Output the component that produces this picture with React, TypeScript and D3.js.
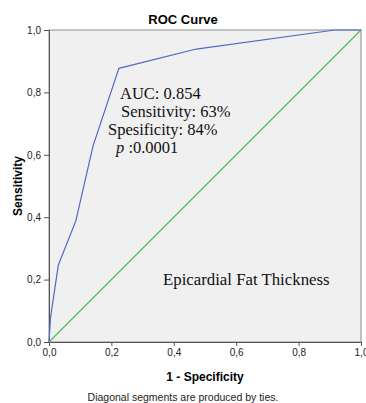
import React, { useEffect, useRef } from "react";
import * as d3 from "d3";

// ROC points (1 - specificity, sensitivity)
const fpr = [0, 0.005, 0.03, 0.086, 0.141, 0.224, 0.472, 0.916, 1];
const tpr = [0, 0.08, 0.247, 0.388, 0.628, 0.877, 0.939, 1, 1];
const tickValues = [0, 0.2, 0.4, 0.6, 0.8, 1];
const statLines = ["AUC: 0.854", "Sensitivity: 63%", "Spesificity: 84%"];

const App: React.FC = () => {
  const svgRef = useRef<SVGSVGElement | null>(null);
  const W = 366;
  const H = 403;
  const margin = { top: 30, right: 5, bottom: 61, left: 49 };
  const width = W - margin.left - margin.right;
  const height = H - margin.top - margin.bottom;

  useEffect(() => {
    const svgElement = svgRef.current;
    if (!svgElement) return;
    const svg = d3.select(svgElement);
    svg.selectAll("*").remove();
    svg.style("background-color", "white");

    const x = d3.scaleLinear().domain([0, 1]).range([0, width]);
    const y = d3.scaleLinear().domain([0, 1]).range([height, 0]);

    const g = svg
      .append("g")
      .attr("transform", `translate(${margin.left},${margin.top})`);

    g.append("rect")
      .attr("width", width)
      .attr("height", height)
      .attr("fill", "#f0f0f0")
      .attr("stroke", "#8c8c8c");

    const fmt = (d: d3.NumberValue) => d3.format(".1f")(d as number).replace(".", ",");

    g.append("g")
      .attr("transform", `translate(0,${height})`)
      .call(d3.axisBottom(x).tickValues(tickValues).tickFormat(fmt).tickSize(4))
      .call((a) => a.selectAll(".domain, .tick line").attr("stroke", "#555"))
      .call((a) =>
        a.selectAll(".tick text").attr("fill", "#222").attr("font-size", 10).attr("font-family", "Arial")
      );

    g.append("g")
      .call(d3.axisLeft(y).tickValues(tickValues).tickFormat(fmt).tickSize(5))
      .call((a) => a.selectAll(".domain, .tick line").attr("stroke", "#555"))
      .call((a) =>
        a.selectAll(".tick text").attr("fill", "#222").attr("font-size", 10).attr("font-family", "Arial")
      );

    // reference diagonal
    g.append("line")
      .attr("x1", x(0))
      .attr("y1", y(0))
      .attr("x2", x(1))
      .attr("y2", y(1))
      .attr("stroke", "#4cbf5c")
      .attr("stroke-width", 1.2);

    const line = d3
      .line<number>()
      .x((d, i) => x(fpr[i]))
      .y((d) => y(d));

    g.append("path")
      .datum(tpr)
      .attr("d", line)
      .attr("fill", "none")
      .attr("stroke", "#5568c0")
      .attr("stroke-width", 1.2);

    // title and axis labels
    svg
      .append("text")
      .attr("x", W / 2)
      .attr("y", 24)
      .attr("text-anchor", "middle")
      .attr("font-family", "Arial")
      .attr("font-weight", "bold")
      .attr("font-size", 13)
      .text("ROC Curve");

    svg
      .append("text")
      .attr("x", margin.left + width / 2)
      .attr("y", 381)
      .attr("text-anchor", "middle")
      .attr("font-family", "Arial")
      .attr("font-weight", "bold")
      .attr("font-size", 12)
      .text("1 - Specificity");

    svg
      .append("text")
      .attr("transform", `translate(22,${margin.top + height / 2}) rotate(-90)`)
      .attr("text-anchor", "middle")
      .attr("font-family", "Arial")
      .attr("font-weight", "bold")
      .attr("font-size", 12)
      .text("Sensitivity");

    svg
      .append("text")
      .attr("x", W / 2)
      .attr("y", 401)
      .attr("text-anchor", "middle")
      .attr("font-family", "Arial")
      .attr("font-size", 10.5)
      .attr("fill", "#222")
      .text("Diagonal segments are produced by ties.");

    // annotation text
    const serif = "'Liberation Serif', 'Times New Roman', serif";
    const statX = [120, 121, 108];
    const statY = [99, 117, 135];
    statLines.forEach((s, i) => {
      svg
        .append("text")
        .attr("x", statX[i])
        .attr("y", statY[i])
        .attr("font-family", serif)
        .attr("font-size", 16.5)
        .attr("fill", "#111")
        .text(s);
    });

    const pText = svg
      .append("text")
      .attr("x", 116)
      .attr("y", 153)
      .attr("font-family", serif)
      .attr("font-size", 16.5)
      .attr("fill", "#111");
    pText.append("tspan").attr("font-style", "italic").text("p");
    pText.append("tspan").text(" :0.0001");

    svg
      .append("text")
      .attr("x", 163)
      .attr("y", 285)
      .attr("font-family", serif)
      .attr("font-size", 16.8)
      .attr("fill", "#111")
      .text("Epicardial Fat Thickness");
  }, []);

  return <svg ref={svgRef} width={W} height={H} style={{ position: "absolute", left: 0, top: 0 }}></svg>;
};

export default App;
